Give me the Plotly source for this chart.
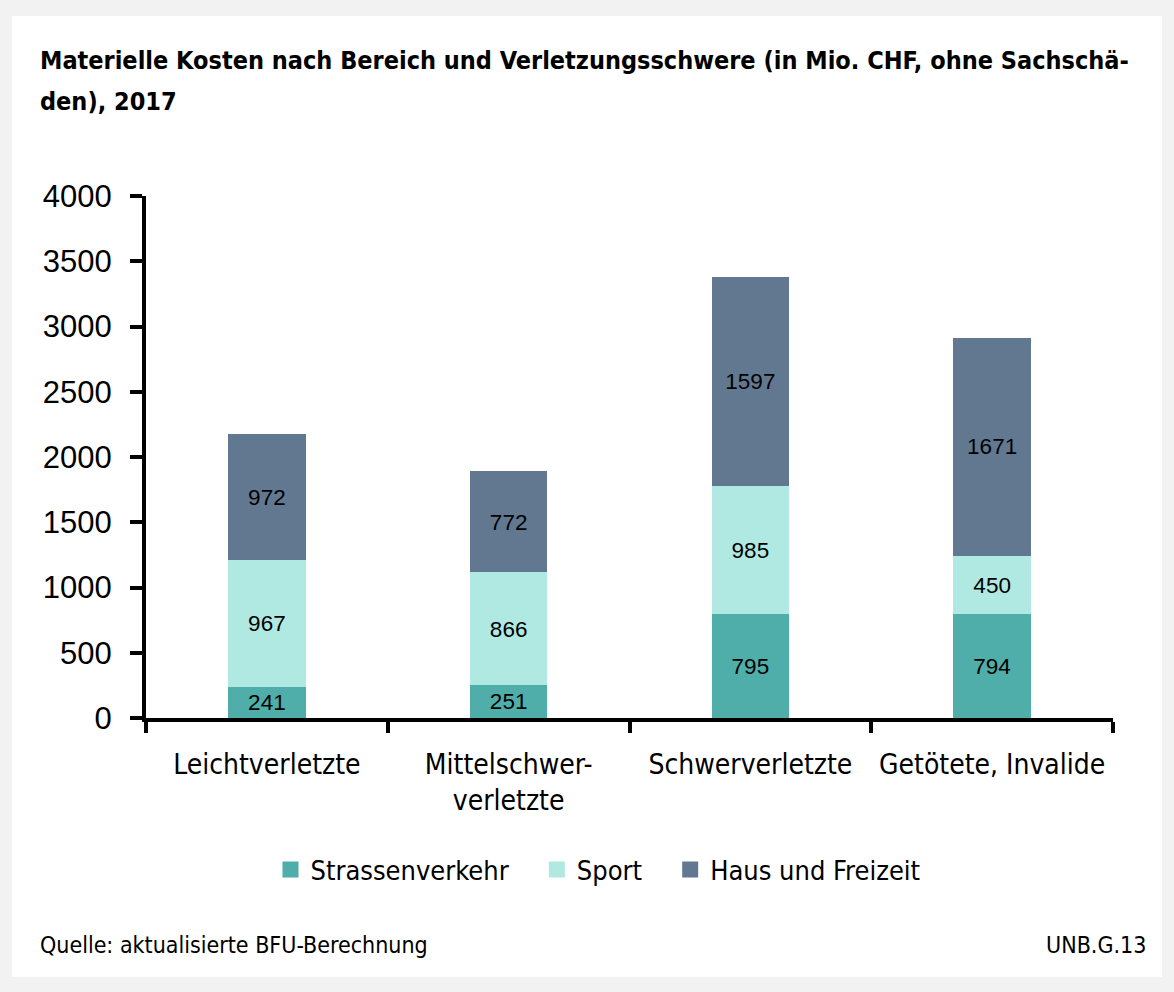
import plotly.graph_objects as go

categories = ["Leichtverletzte", "Mittelschwer-<br>verletzte", "Schwerverletzte", "Getötete, Invalide"]
strassenverkehr = [241, 251, 795, 794]
sport = [967, 866, 985, 450]
haus_freizeit = [972, 772, 1597, 1671]
series_names = ["Strassenverkehr", "Sport", "Haus und Freizeit"]
colors = ["#4faea9", "#b0e8e2", "#627891"]
y_ticks = [0, 500, 1000, 1500, 2000, 2500, 3000, 3500, 4000]
title_lines = ["Materielle Kosten nach Bereich und Verletzungsschwere (in Mio. CHF, ohne Sachschä-",
               "den), 2017"]

W, H = 1174, 992
L, R, T, B = 146, 1113, 196, 718

def px(X):
    return (X - L) / (R - L)

def py(Y):
    return (B - Y) / (B - T)

narrow = "Liberation Sans Narrow, DejaVu Sans Condensed, Arial Narrow, sans-serif"
sans = "Liberation Sans, Arial, sans-serif"

fig = go.Figure()
for name, vals, col in zip(series_names, [strassenverkehr, sport, haus_freizeit], colors):
    fig.add_trace(go.Bar(
        x=categories, y=vals, name=name, marker_color=col, marker_line_width=0,
        text=[str(v) for v in vals], textposition="inside", insidetextanchor="middle",
        textfont=dict(family=sans, size=23, color="black"), showlegend=False,
        hoverinfo="skip",
    ))
# legend proxies
pad = ["\u00a0\u00a0\u00a0", "\u00a0\u00a0\u00a0", ""]
for name, col, p in zip(series_names, colors, pad):
    fig.add_trace(go.Scatter(
        x=[None], y=[None], mode="markers", name=name + p,
        marker=dict(symbol="square", size=20, color=col),
    ))

fig.update_layout(
    width=W, height=H,
    barmode="stack", bargap=0.68,
    paper_bgcolor="#f2f2f2", plot_bgcolor="rgba(0,0,0,0)",
    margin=dict(l=L, r=W - R, t=T, b=H - B, pad=0),
    showlegend=True,
    legend=dict(orientation="h", x=px(598), xanchor="center", y=py(870), yanchor="middle",
                font=dict(family=narrow, size=27, color="black"), bgcolor="rgba(0,0,0,0)",
                itemsizing="trace", tracegroupgap=0, itemwidth=30, traceorder="normal"),
    uniformtext=dict(mode="show", minsize=10),
)
fig.update_xaxes(
    showline=True, linecolor="black", linewidth=4,
    ticks="outside", tickson="boundaries", ticklen=11, tickwidth=4, tickcolor="black",
    tickfont=dict(family=narrow, size=28, color="black"),
    showgrid=False, zeroline=False, ticklabelstandoff=18,
)
fig.update_yaxes(
    range=[0, 4000], tickvals=y_ticks, ticktext=[str(v) for v in y_ticks],
    showline=True, linecolor="black", linewidth=4,
    ticks="outside", ticklen=12, tickwidth=4, tickcolor="black",
    tickfont=dict(family=sans, size=31, color="black"),
    showgrid=False, zeroline=False, ticklabelstandoff=12,
)

# white card
fig.add_shape(type="rect", xref="paper", yref="paper", layer="below",
              x0=px(12), x1=px(1162), y0=py(977), y1=py(16),
              fillcolor="white", line_width=0)

for line, yc in zip(title_lines, [60, 101]):
    fig.add_annotation(
        xref="paper", yref="paper", x=px(38), y=py(yc), xanchor="left", yanchor="middle",
        align="left", showarrow=False, text="<b>" + line + "</b>",
        font=dict(family=narrow, size=25, color="black"),
    )
fig.add_annotation(
    xref="paper", yref="paper", x=px(38), y=py(945), xanchor="left", yanchor="middle",
    showarrow=False, text="Quelle: aktualisierte BFU-Berechnung",
    font=dict(family=narrow, size=23, color="black"),
)
fig.add_annotation(
    xref="paper", yref="paper", x=px(1148), y=py(945), xanchor="right", yanchor="middle",
    showarrow=False, text="UNB.G.13",
    font=dict(family=narrow, size=23, color="black"),
)

fig.write_html("out.html", config={"displayModeBar": False},
               post_script="document.body.style.margin='0';document.body.style.overflow='hidden';")
